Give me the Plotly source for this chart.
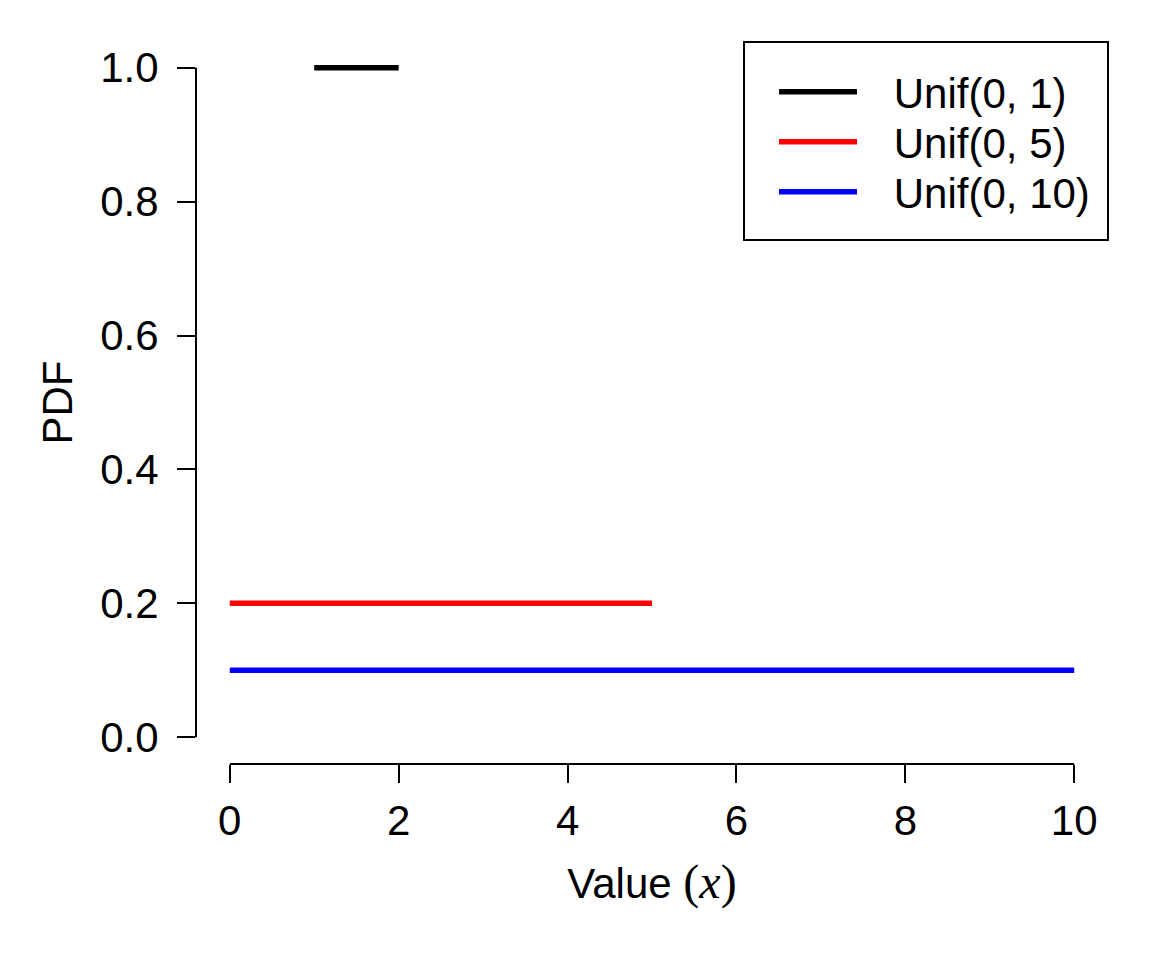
import plotly.graph_objects as go

# uniform densities as drawn: segment ends and height
series_names = ["Unif(0, 1)", "Unif(0, 5)", "Unif(0, 10)"]
seg_x = [[1, 2], [0, 5], [0, 10]]
seg_y = [[1.0, 1.0], [0.2, 0.2], [0.1, 0.1]]
colors = ["black", "red", "blue"]

x_ticks = [0, 2, 4, 6, 8, 10]
y_ticks = [0.0, 0.2, 0.4, 0.6, 0.8, 1.0]
y_tick_text = ["0.0", "0.2", "0.4", "0.6", "0.8", "1.0"]

font_main = "Arial, Liberation Sans, sans-serif"
fsize = 42

# one legend per entry so the rows can be spaced like R's legend()
legend_ids = ["legend", "legend2", "legend3"]
legend_rows = [0.9295, 0.8603, 0.7911]

fig = go.Figure()
for name, xs, ys, col, lid in zip(series_names, seg_x, seg_y, colors, legend_ids):
    fig.add_trace(go.Scatter(x=xs, y=ys, mode="lines", name="&nbsp;&nbsp;&#8201;" + name,
                             legend=lid, showlegend=True, line=dict(color=col, width=5.5)))

# R style axis lines, only spanning first..last tick
fig.add_shape(type="line", xref="x", yref="paper", x0=x_ticks[0], x1=x_ticks[-1],
              y0=0, y1=0, line=dict(color="black", width=2))
fig.add_shape(type="line", xref="paper", yref="y", x0=0, x1=0,
              y0=y_ticks[0], y1=y_ticks[-1], line=dict(color="black", width=2))
# legend frame
fig.add_shape(type="rect", xref="paper", yref="paper", x0=0.6009, x1=1.0,
              y0=0.7248, y1=0.9986, line=dict(color="black", width=2))

fig.update_xaxes(range=[-0.4, 10.4], tickvals=x_ticks, ticks="outside", ticklen=18,
                 tickwidth=2, tickcolor="black", showgrid=False, zeroline=False,
                 showline=False, ticklabelstandoff=2,
                 tickfont=dict(size=fsize, color="black", family=font_main),
                 title=dict(text='Value <span style="font-family:Liberation Serif;font-size:48px">(<i>x</i>)</span>',
                            font=dict(size=fsize, color="black", family=font_main), standoff=25))
fig.update_yaxes(range=[-0.04, 1.04], tickvals=y_ticks, ticktext=y_tick_text, ticks="outside",
                 ticklen=18, tickwidth=2, tickcolor="black", showgrid=False, zeroline=False,
                 showline=False, ticklabelstandoff=10,
                 tickfont=dict(size=fsize, color="black", family=font_main),
                 title=dict(text="PDF", font=dict(size=fsize, color="black", family=font_main),
                            standoff=14))

legend_style = dict(x=0.6338, xanchor="left", yanchor="middle", bgcolor="rgba(0,0,0,0)",
                    borderwidth=0, itemwidth=78,
                    font=dict(size=fsize, color="black", family=font_main))
fig.update_layout(
    width=1136, height=944,
    margin=dict(l=188, r=36, t=33, b=188),
    plot_bgcolor="white", paper_bgcolor="white",
    showlegend=True,
    legend=dict(y=legend_rows[0], **legend_style),
    legend2=dict(y=legend_rows[1], **legend_style),
    legend3=dict(y=legend_rows[2], **legend_style),
)

fig.write_html("out.html")
